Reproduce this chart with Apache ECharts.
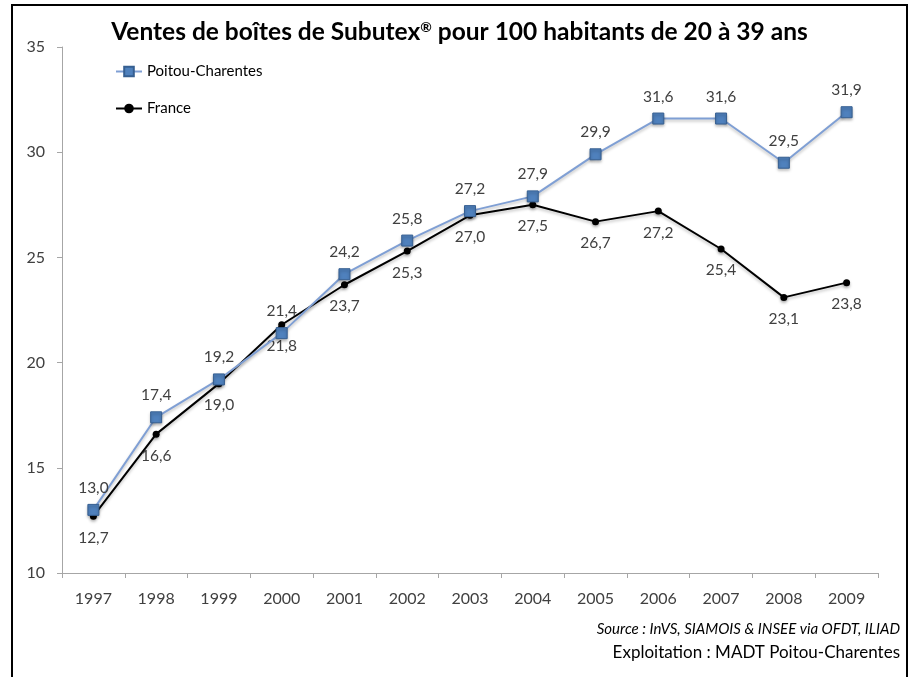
<!DOCTYPE html>
<html><head><meta charset="utf-8">
<script src="https://cdn.jsdelivr.net/npm/echarts@6/dist/echarts.min.js"></script>
<style>html,body{margin:0;padding:0;background:#fff}#c{width:919px;height:677px}</style>
</head><body><div id="c"></div>
<script>
const years = ['1997','1998','1999','2000','2001','2002','2003','2004','2005','2006','2007','2008','2009'];
const poitou = [13.0,17.4,19.2,21.4,24.2,25.8,27.2,27.9,29.9,31.6,31.6,29.5,31.9];
const france = [12.7,16.6,19.0,21.8,23.7,25.3,27.0,27.5,26.7,27.2,25.4,23.1,23.8];
const yTicks = [10,15,20,25,30,35];
const titleParts = ['Ventes de boîtes de Subutex', '®', ' pour 100 habitants de 20 à 39 ans'];
const sourceText = 'Source : InVS, SIAMOIS & INSEE via OFDT, ILIAD';
const exploitText = 'Exploitation : MADT Poitou-Charentes';

const font = 'Lato, "Open Sans", sans-serif';
const fmt = p => p.value.toFixed(1).replace('.', ',');
const chart = echarts.init(document.getElementById('c'));
chart.setOption({
  animation: false,
  textStyle: {fontFamily: font},
  title: {text: '{m|' + titleParts[0] + '}{s|' + titleParts[1] + '}{m|' + titleParts[2] + '}', left: 'center', top: 15,
    textStyle: {fontFamily: font, fontSize: 24.5, fontWeight: 'bold', color: '#000',
      rich: {
        m: {fontFamily: font, fontSize: 24.5, fontWeight: 'bold', color: '#000'},
        s: {fontFamily: font, fontSize: 14, fontWeight: 'bold', color: '#000', verticalAlign: 'top', padding: [0, 0, 10, 0]}
      }}},
  legend: {orient: 'vertical', left: 110, top: 59, itemGap: 22, itemWidth: 26, itemHeight: 12,
    textStyle: {fontFamily: font, fontSize: 15, color: '#000'},
    data: ['Poitou-Charentes','France']},
  grid: {left: 62, right: 41, top: 47, bottom: 104, containLabel: false},
  xAxis: {type: 'category', data: years, boundaryGap: true,
    axisLine: {lineStyle: {color: '#a6a6a6'}},
    axisTick: {show: true, length: 5, lineStyle: {color: '#a6a6a6'}},
    axisLabel: {color: '#404040', fontSize: 16, margin: 18, fontFamily: font}},
  yAxis: {type: 'value', min: yTicks[0], max: yTicks[yTicks.length-1], interval: 5,
    axisLine: {show: true, lineStyle: {color: '#a6a6a6'}},
    axisTick: {show: true, length: 5, lineStyle: {color: '#a6a6a6'}},
    splitLine: {show: false},
    axisLabel: {color: '#404040', fontSize: 16, margin: 17, fontFamily: font}},
  series: [
    {name: 'Poitou-Charentes', type: 'line', data: poitou, symbol: 'rect', symbolSize: 11,
      lineStyle: {color: '#7f9fd4', width: 2, shadowColor: 'rgba(0,0,0,0.25)', shadowBlur: 3, shadowOffsetY: 2},
      itemStyle: {color: '#4f81bd', borderColor: '#365f91', borderWidth: 1, shadowColor: 'rgba(0,0,0,0.3)', shadowBlur: 3, shadowOffsetY: 2},
      label: {show: true, position: 'top', distance: 8, formatter: fmt, color: '#404040', fontSize: 15.5, fontFamily: font},
      z: 3},
    {name: 'France', type: 'line', data: france, symbol: 'circle', symbolSize: 7,
      lineStyle: {color: '#000', width: 2, shadowColor: 'rgba(0,0,0,0.25)', shadowBlur: 3, shadowOffsetY: 2},
      itemStyle: {color: '#000', shadowColor: 'rgba(0,0,0,0.3)', shadowBlur: 3, shadowOffsetY: 2},
      label: {show: true, position: 'bottom', distance: 10, formatter: fmt, color: '#404040', fontSize: 15.5, fontFamily: font},
      z: 2}
  ],
  graphic: [
    {type: 'rect', shape: {x: 12, y: 5, width: 895, height: 680}, style: {fill: 'none', stroke: '#000', lineWidth: 2}, silent: true},
    {type: 'text', right: 19, top: 622, style: {text: sourceText, font: 'italic 15px ' + font, fill: '#000', textAlign: 'right'}},
    {type: 'text', right: 19, top: 644, style: {text: exploitText, font: '17px ' + font, fill: '#000', textAlign: 'right'}}
  ]
});
</script></body></html>
